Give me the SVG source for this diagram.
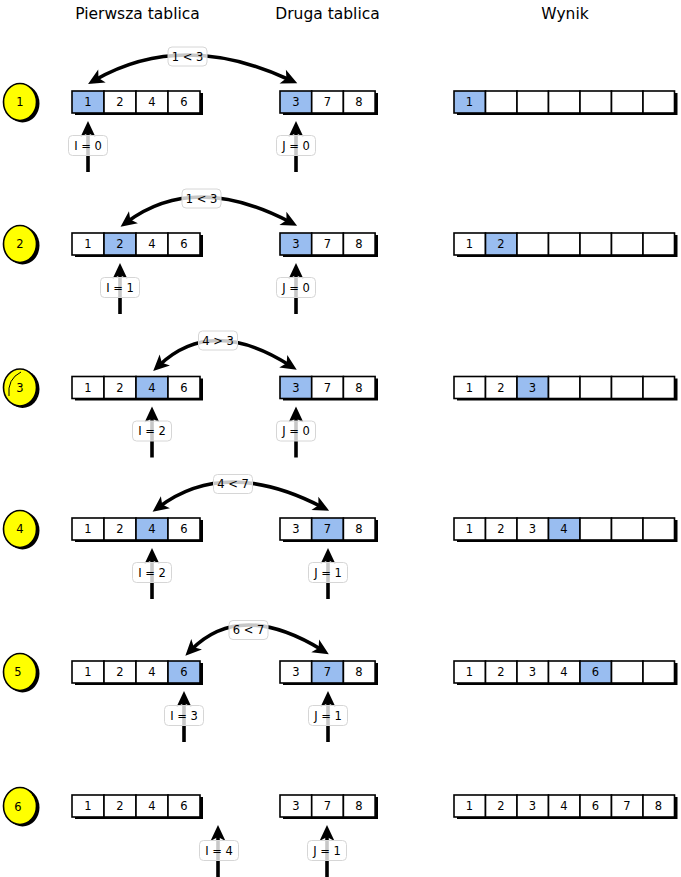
<svg xmlns="http://www.w3.org/2000/svg" width="681" height="877" viewBox="0 0 681 877">
<defs>
<style>
text{font-family:"DejaVu Sans","Liberation Sans",Arial,sans-serif;fill:#000;}
.h{font-size:15.5px;text-anchor:middle;}
.n{font-size:11.5px;text-anchor:middle;dominant-baseline:central;}
.c{fill:#fff;stroke:#000;stroke-width:1.6;}
.b{fill:#99bdf0;stroke:#000;stroke-width:1.6;}
.sh{fill:#000;}
.lb{fill:#fff;fill-opacity:0.78;stroke:#d6d6d6;stroke-width:1;}
.ln{fill:none;stroke:#000;stroke-width:3.6;marker-end:url(#ah);}
.arc{fill:none;stroke:#000;stroke-width:3.6;marker-start:url(#ah);marker-end:url(#ah);}
.cy{fill:#ffff00;stroke:#000;stroke-width:1.6;}
</style>
<marker id="ah" markerUnits="userSpaceOnUse" markerWidth="18" markerHeight="18" viewBox="0 0 18 18" refX="9" refY="9" orient="auto-start-reverse">
<path d="M1,1.5 L17,9 L1,16.5 L5,9 z" fill="#000"/>
</marker>
</defs>
<rect width="681" height="877" fill="#fff"/>
<g id="headers">
<text class="h" x="137.5" y="19">Pierwsza tablica</text>
<text class="h" x="327.5" y="19">Druga tablica</text>
<text class="h" x="565" y="19">Wynik</text>
</g>

<!-- Step 1 -->
<g id="step1">
<ellipse cx="22.5" cy="103.5" rx="17" ry="19" class="sh"/>
<ellipse cx="20" cy="102" rx="16.5" ry="18.5" class="cy"/>
<text class="n" x="20" y="102">1</text>
<g id="s1-a">
<rect x="75" y="93" width="128" height="22" class="sh"/>
<rect x="72" y="91" width="32" height="22" class="b"/><rect x="104" y="91" width="32" height="22" class="c"/><rect x="136" y="91" width="32" height="22" class="c"/><rect x="168" y="91" width="32" height="22" class="c"/>
<text class="n" x="88" y="102">1</text><text class="n" x="120" y="102">2</text><text class="n" x="152" y="102">4</text><text class="n" x="184" y="102">6</text>
</g>
<g id="s1-b">
<rect x="283" y="93" width="95" height="22" class="sh"/>
<rect x="280" y="91" width="31.7" height="22" class="b"/><rect x="311.7" y="91" width="31.7" height="22" class="c"/><rect x="343.4" y="91" width="31.7" height="22" class="c"/>
<text class="n" x="296" y="102">3</text><text class="n" x="327.5" y="102">7</text><text class="n" x="359" y="102">8</text>
</g>
<g id="s1-r">
<rect x="457" y="93" width="220.5" height="22" class="sh"/>
<rect x="454" y="91" width="31.5" height="22" class="b"/><rect x="485.5" y="91" width="31.5" height="22" class="c"/><rect x="517" y="91" width="31.5" height="22" class="c"/><rect x="548.5" y="91" width="31.5" height="22" class="c"/><rect x="580" y="91" width="31.5" height="22" class="c"/><rect x="611.5" y="91" width="31.5" height="22" class="c"/><rect x="643" y="91" width="31.5" height="22" class="c"/>
<text class="n" x="469.5" y="102">1</text>
</g>
</g>

<!-- Step 2 -->
<g id="step2">
<ellipse cx="22.5" cy="245.5" rx="17" ry="19" class="sh"/>
<ellipse cx="20" cy="244" rx="16.5" ry="18.5" class="cy"/>
<text class="n" x="20" y="244">2</text>
<g id="s2-a">
<rect x="75" y="235" width="128" height="22" class="sh"/>
<rect x="72" y="233" width="32" height="22" class="c"/><rect x="104" y="233" width="32" height="22" class="b"/><rect x="136" y="233" width="32" height="22" class="c"/><rect x="168" y="233" width="32" height="22" class="c"/>
<text class="n" x="88" y="244">1</text><text class="n" x="120" y="244">2</text><text class="n" x="152" y="244">4</text><text class="n" x="184" y="244">6</text>
</g>
<g id="s2-b">
<rect x="283" y="235" width="95" height="22" class="sh"/>
<rect x="280" y="233" width="31.7" height="22" class="b"/><rect x="311.7" y="233" width="31.7" height="22" class="c"/><rect x="343.4" y="233" width="31.7" height="22" class="c"/>
<text class="n" x="296" y="244">3</text><text class="n" x="327.5" y="244">7</text><text class="n" x="359" y="244">8</text>
</g>
<g id="s2-r">
<rect x="457" y="235" width="220.5" height="22" class="sh"/>
<rect x="454" y="233" width="31.5" height="22" class="c"/><rect x="485.5" y="233" width="31.5" height="22" class="b"/><rect x="517" y="233" width="31.5" height="22" class="c"/><rect x="548.5" y="233" width="31.5" height="22" class="c"/><rect x="580" y="233" width="31.5" height="22" class="c"/><rect x="611.5" y="233" width="31.5" height="22" class="c"/><rect x="643" y="233" width="31.5" height="22" class="c"/>
<text class="n" x="469.5" y="244">1</text><text class="n" x="501" y="244">2</text>
</g>
</g>

<!-- Step 3 -->
<g id="step3">
<ellipse cx="22.5" cy="389" rx="17" ry="19" class="sh"/>
<ellipse cx="20" cy="387.5" rx="16.5" ry="18.5" class="cy"/>
<path d="M9,396 Q7,379 21,372" fill="none" stroke="#000" stroke-width="1"/>
<text class="n" x="20" y="387.5">3</text>
<g id="s3-a">
<rect x="75" y="378.5" width="128" height="22" class="sh"/>
<rect x="72" y="376.5" width="32" height="22" class="c"/><rect x="104" y="376.5" width="32" height="22" class="c"/><rect x="136" y="376.5" width="32" height="22" class="b"/><rect x="168" y="376.5" width="32" height="22" class="c"/>
<text class="n" x="88" y="387.5">1</text><text class="n" x="120" y="387.5">2</text><text class="n" x="152" y="387.5">4</text><text class="n" x="184" y="387.5">6</text>
</g>
<g id="s3-b">
<rect x="283" y="378.5" width="95" height="22" class="sh"/>
<rect x="280" y="376.5" width="31.7" height="22" class="b"/><rect x="311.7" y="376.5" width="31.7" height="22" class="c"/><rect x="343.4" y="376.5" width="31.7" height="22" class="c"/>
<text class="n" x="296" y="387.5">3</text><text class="n" x="327.5" y="387.5">7</text><text class="n" x="359" y="387.5">8</text>
</g>
<g id="s3-r">
<rect x="457" y="378.5" width="220.5" height="22" class="sh"/>
<rect x="454" y="376.5" width="31.5" height="22" class="c"/><rect x="485.5" y="376.5" width="31.5" height="22" class="c"/><rect x="517" y="376.5" width="31.5" height="22" class="b"/><rect x="548.5" y="376.5" width="31.5" height="22" class="c"/><rect x="580" y="376.5" width="31.5" height="22" class="c"/><rect x="611.5" y="376.5" width="31.5" height="22" class="c"/><rect x="643" y="376.5" width="31.5" height="22" class="c"/>
<text class="n" x="469.5" y="387.5">1</text><text class="n" x="501" y="387.5">2</text><text class="n" x="532.5" y="387.5">3</text>
</g>
</g>

<!-- Step 4 -->
<g id="step4">
<ellipse cx="22.5" cy="530.5" rx="17" ry="19" class="sh"/>
<ellipse cx="20" cy="529" rx="16.5" ry="18.5" class="cy"/>
<text class="n" x="20" y="529">4</text>
<g id="s4-a">
<rect x="75" y="520" width="128" height="22" class="sh"/>
<rect x="72" y="518" width="32" height="22" class="c"/><rect x="104" y="518" width="32" height="22" class="c"/><rect x="136" y="518" width="32" height="22" class="b"/><rect x="168" y="518" width="32" height="22" class="c"/>
<text class="n" x="88" y="529">1</text><text class="n" x="120" y="529">2</text><text class="n" x="152" y="529">4</text><text class="n" x="184" y="529">6</text>
</g>
<g id="s4-b">
<rect x="283" y="520" width="95" height="22" class="sh"/>
<rect x="280" y="518" width="31.7" height="22" class="c"/><rect x="311.7" y="518" width="31.7" height="22" class="b"/><rect x="343.4" y="518" width="31.7" height="22" class="c"/>
<text class="n" x="296" y="529">3</text><text class="n" x="327.5" y="529">7</text><text class="n" x="359" y="529">8</text>
</g>
<g id="s4-r">
<rect x="457" y="520" width="220.5" height="22" class="sh"/>
<rect x="454" y="518" width="31.5" height="22" class="c"/><rect x="485.5" y="518" width="31.5" height="22" class="c"/><rect x="517" y="518" width="31.5" height="22" class="c"/><rect x="548.5" y="518" width="31.5" height="22" class="b"/><rect x="580" y="518" width="31.5" height="22" class="c"/><rect x="611.5" y="518" width="31.5" height="22" class="c"/><rect x="643" y="518" width="31.5" height="22" class="c"/>
<text class="n" x="469.5" y="529">1</text><text class="n" x="501" y="529">2</text><text class="n" x="532.5" y="529">3</text><text class="n" x="564" y="529">4</text>
</g>
</g>

<!-- Step 5 -->
<g id="step5">
<ellipse cx="22.5" cy="673.5" rx="17" ry="19" class="sh"/>
<ellipse cx="20" cy="672" rx="16.5" ry="18.5" class="cy"/>
<text class="n" x="18" y="672">5</text>
<g id="s5-a">
<rect x="75" y="663" width="128" height="22" class="sh"/>
<rect x="72" y="661" width="32" height="22" class="c"/><rect x="104" y="661" width="32" height="22" class="c"/><rect x="136" y="661" width="32" height="22" class="c"/><rect x="168" y="661" width="32" height="22" class="b"/>
<text class="n" x="88" y="672">1</text><text class="n" x="120" y="672">2</text><text class="n" x="152" y="672">4</text><text class="n" x="184" y="672">6</text>
</g>
<g id="s5-b">
<rect x="283" y="663" width="95" height="22" class="sh"/>
<rect x="280" y="661" width="31.7" height="22" class="c"/><rect x="311.7" y="661" width="31.7" height="22" class="b"/><rect x="343.4" y="661" width="31.7" height="22" class="c"/>
<text class="n" x="296" y="672">3</text><text class="n" x="327.5" y="672">7</text><text class="n" x="359" y="672">8</text>
</g>
<g id="s5-r">
<rect x="457" y="663" width="220.5" height="22" class="sh"/>
<rect x="454" y="661" width="31.5" height="22" class="c"/><rect x="485.5" y="661" width="31.5" height="22" class="c"/><rect x="517" y="661" width="31.5" height="22" class="c"/><rect x="548.5" y="661" width="31.5" height="22" class="c"/><rect x="580" y="661" width="31.5" height="22" class="b"/><rect x="611.5" y="661" width="31.5" height="22" class="c"/><rect x="643" y="661" width="31.5" height="22" class="c"/>
<text class="n" x="469.5" y="672">1</text><text class="n" x="501" y="672">2</text><text class="n" x="532.5" y="672">3</text><text class="n" x="564" y="672">4</text><text class="n" x="595.5" y="672">6</text>
</g>
</g>

<!-- Step 6 -->
<g id="step6">
<ellipse cx="22.5" cy="807.5" rx="17" ry="19" class="sh"/>
<ellipse cx="20" cy="806" rx="16.5" ry="18.5" class="cy"/>
<path d="M28,790 Q34,792 33,796" fill="none" stroke="#000" stroke-width="1"/>
<text class="n" x="18" y="807">6</text>
<g id="s6-a">
<rect x="75" y="797" width="128" height="22" class="sh"/>
<rect x="72" y="795" width="32" height="22" class="c"/><rect x="104" y="795" width="32" height="22" class="c"/><rect x="136" y="795" width="32" height="22" class="c"/><rect x="168" y="795" width="32" height="22" class="c"/>
<text class="n" x="88" y="806">1</text><text class="n" x="120" y="806">2</text><text class="n" x="152" y="806">4</text><text class="n" x="184" y="806">6</text>
</g>
<g id="s6-b">
<rect x="283" y="797" width="95" height="22" class="sh"/>
<rect x="280" y="795" width="31.7" height="22" class="c"/><rect x="311.7" y="795" width="31.7" height="22" class="c"/><rect x="343.4" y="795" width="31.7" height="22" class="c"/>
<text class="n" x="296" y="806">3</text><text class="n" x="327.5" y="806">7</text><text class="n" x="359" y="806">8</text>
</g>
<g id="s6-r">
<rect x="457" y="797" width="220.5" height="22" class="sh"/>
<rect x="454" y="795" width="31.5" height="22" class="c"/><rect x="485.5" y="795" width="31.5" height="22" class="c"/><rect x="517" y="795" width="31.5" height="22" class="c"/><rect x="548.5" y="795" width="31.5" height="22" class="c"/><rect x="580" y="795" width="31.5" height="22" class="c"/><rect x="611.5" y="795" width="31.5" height="22" class="c"/><rect x="643" y="795" width="31.5" height="22" class="c"/>
<text class="n" x="469.5" y="806">1</text><text class="n" x="501" y="806">2</text><text class="n" x="532.5" y="806">3</text><text class="n" x="564" y="806">4</text><text class="n" x="595.5" y="806">6</text><text class="n" x="627" y="806">7</text><text class="n" x="658.5" y="806">8</text>
</g>
</g>

<g id="connectors">
<!-- comparison arcs -->
<path class="arc" d="M95,80 Q182.5,30 290,80"/>
<path class="arc" d="M127,222 Q194.5,172 290,222"/>
<path class="arc" d="M159,365.5 Q211.5,315.5 290,365.5"/>
<path class="arc" d="M159,507 Q225.5,457 322,507"/>
<path class="arc" d="M191,650 Q240.5,600 322,650"/>
<!-- pointers -->
<path class="ln" d="M88,172 L88,129"/>
<path class="ln" d="M296,172 L296,129"/>
<path class="ln" d="M120,314 L120,271"/>
<path class="ln" d="M296,314 L296,271"/>
<path class="ln" d="M152,457.5 L152,414.5"/>
<path class="ln" d="M296,457.5 L296,414.5"/>
<path class="ln" d="M152,599 L152,556"/>
<path class="ln" d="M328,599 L328,556"/>
<path class="ln" d="M184,742 L184,699"/>
<path class="ln" d="M328,742 L328,699"/>
<path class="ln" d="M218,877 L218,833"/>
<path class="ln" d="M327,877 L327,833"/>
<!-- arc labels -->
<g id="lbl-arc1"><rect class="lb" x="168" y="47" width="39" height="19" rx="4"/><text class="n" x="187.5" y="56.5">1 &lt; 3</text></g>
<g id="lbl-arc2"><rect class="lb" x="182" y="189" width="39" height="19" rx="4"/><text class="n" x="201.5" y="198.5">1 &lt; 3</text></g>
<g id="lbl-arc3"><rect class="lb" x="198.5" y="331" width="39" height="19" rx="4"/><text class="n" x="218" y="340.5">4 &gt; 3</text></g>
<g id="lbl-arc4"><rect class="lb" x="213.5" y="474.5" width="39" height="19" rx="4"/><text class="n" x="233" y="484">4 &lt; 7</text></g>
<g id="lbl-arc5"><rect class="lb" x="229" y="620.5" width="39" height="19" rx="4"/><text class="n" x="248.5" y="630">6 &lt; 7</text></g>
<!-- pointer labels -->
<g id="lbl-i1"><rect class="lb" x="68.5" y="135.5" width="39" height="20" rx="4"/><text class="n" x="88" y="145.5">I = 0</text></g>
<g id="lbl-j1"><rect class="lb" x="276.5" y="135.5" width="39" height="20" rx="4"/><text class="n" x="296" y="145.5">J = 0</text></g>
<g id="lbl-i2"><rect class="lb" x="100.5" y="277.5" width="39" height="20" rx="4"/><text class="n" x="120" y="287.5">I = 1</text></g>
<g id="lbl-j2"><rect class="lb" x="276.5" y="277.5" width="39" height="20" rx="4"/><text class="n" x="296" y="287.5">J = 0</text></g>
<g id="lbl-i3"><rect class="lb" x="132.5" y="421" width="39" height="20" rx="4"/><text class="n" x="152" y="431">I = 2</text></g>
<g id="lbl-j3"><rect class="lb" x="276.5" y="421" width="39" height="20" rx="4"/><text class="n" x="296" y="431">J = 0</text></g>
<g id="lbl-i4"><rect class="lb" x="132.5" y="562.5" width="39" height="20" rx="4"/><text class="n" x="152" y="572.5">I = 2</text></g>
<g id="lbl-j4"><rect class="lb" x="308.5" y="562.5" width="39" height="20" rx="4"/><text class="n" x="328" y="572.5">J = 1</text></g>
<g id="lbl-i5"><rect class="lb" x="164.5" y="705.5" width="39" height="20" rx="4"/><text class="n" x="184" y="715.5">I = 3</text></g>
<g id="lbl-j5"><rect class="lb" x="308.5" y="705.5" width="39" height="20" rx="4"/><text class="n" x="328" y="715.5">J = 1</text></g>
<g id="lbl-i6"><rect class="lb" x="199.5" y="840.5" width="39" height="20" rx="4"/><text class="n" x="219" y="850.5">I = 4</text></g>
<g id="lbl-j6"><rect class="lb" x="307.5" y="840.5" width="39" height="20" rx="4"/><text class="n" x="327" y="850.5">J = 1</text></g>
</g>
</svg>
